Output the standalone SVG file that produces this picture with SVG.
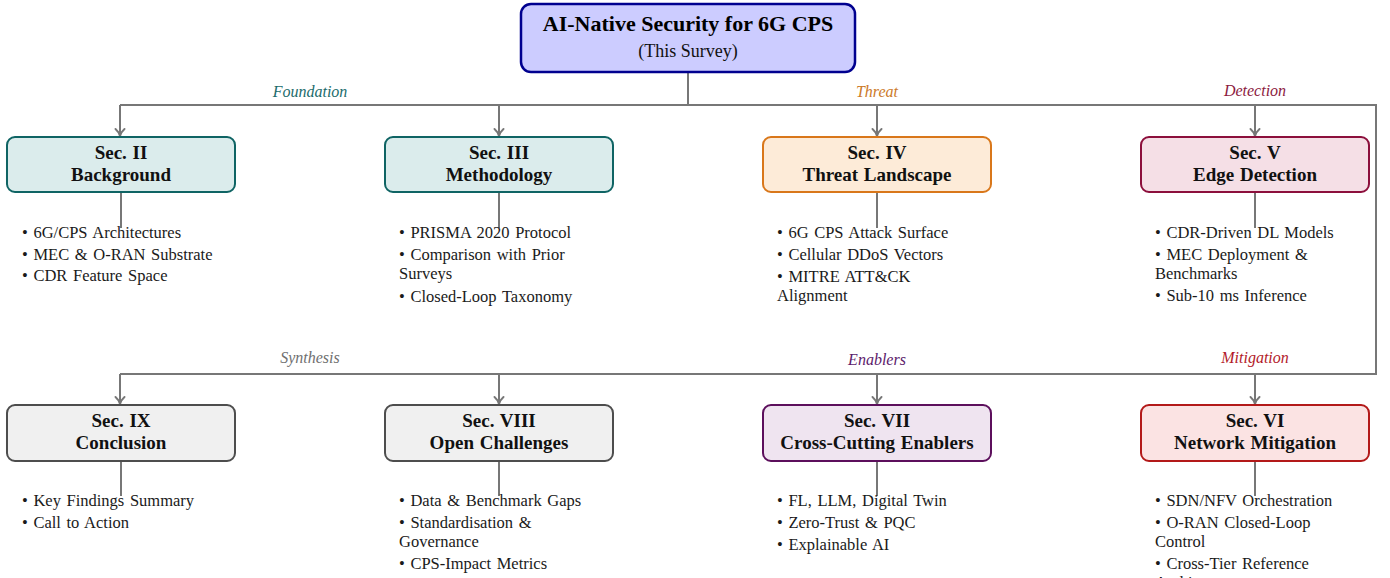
<svg xmlns="http://www.w3.org/2000/svg" width="1390" height="578" viewBox="0 0 1390 578">
  <style>
    .title { font-family: "Liberation Serif", "Times New Roman", serif; font-weight: bold; font-size: 22px; fill: #000; text-anchor: middle; }
    .sub { font-family: "Liberation Serif", "Times New Roman", serif; font-size: 18px; fill: #111; text-anchor: middle; }
    .head { font-family: "Liberation Serif", "Times New Roman", serif; font-weight: bold; font-size: 19px; fill: #111; text-anchor: middle; word-spacing: 1px; }
    .item { font-family: "Liberation Serif", "Times New Roman", serif; font-size: 16.5px; fill: #1a1a1a; word-spacing: 1.5px; }
    .lbl { font-family: "Liberation Serif", "Times New Roman", serif; font-style: italic; font-size: 16px; text-anchor: middle; }
    .box { stroke-width: 2; }
    .wire { fill: none; stroke: #777; stroke-width: 2; }
    .stem { fill: none; stroke: #777; stroke-width: 2; }
  </style>
  <defs>
    <marker id="tip" markerWidth="12" markerHeight="12" refX="9" refY="6" orient="auto" markerUnits="userSpaceOnUse">
      <path d="M2,1.5 Q5,5 9,6 Q5,7 2,10.5" fill="none" stroke="#777" stroke-width="2" stroke-linecap="round"/>
    </marker>
  </defs>

  <!-- connectors -->
  <g id="connectors">
    <path class="wire" d="M688,72 V105"/>
    <path class="wire" d="M120,105 H1376 V374 H120"/>
    <path class="wire" d="M120,105 V136" marker-end="url(#tip)"/>
    <path class="wire" d="M499,105 V136" marker-end="url(#tip)"/>
    <path class="wire" d="M877,105 V136" marker-end="url(#tip)"/>
    <path class="wire" d="M1255,105 V136" marker-end="url(#tip)"/>
    <path class="wire" d="M120,374 V404" marker-end="url(#tip)"/>
    <path class="wire" d="M499,374 V404" marker-end="url(#tip)"/>
    <path class="wire" d="M877,374 V404" marker-end="url(#tip)"/>
    <path class="wire" d="M1255,374 V404" marker-end="url(#tip)"/>
    <!-- stems from boxes to their item lists -->
    <path class="stem" d="M121,192 V228"/>
    <path class="stem" d="M499,192 V228"/>
    <path class="stem" d="M877,192 V228"/>
    <path class="stem" d="M1255,192 V228"/>
    <path class="stem" d="M121,461 V496"/>
    <path class="stem" d="M499,461 V496"/>
    <path class="stem" d="M877,461 V496"/>
    <path class="stem" d="M1255,461 V496"/>
  </g>

  <!-- connector labels -->
  <g id="labels">
    <text class="lbl" x="310" y="97" fill="#1a6b6b">Foundation</text>
    <text class="lbl" x="877" y="97" fill="#cc7a29">Threat</text>
    <text class="lbl" x="1255" y="96" fill="#8c1a40">Detection</text>
    <text class="lbl" x="310" y="363" fill="#707070">Synthesis</text>
    <text class="lbl" x="877" y="365" fill="#5c1a6b">Enablers</text>
    <text class="lbl" x="1255" y="363" fill="#b31a2a">Mitigation</text>
  </g>

  <!-- root -->
  <g id="root">
    <rect x="521" y="4" width="334" height="68" rx="10" fill="#ccccff" stroke="#00008f" stroke-width="2.5"/>
    <text class="title" x="688" y="31">AI-Native Security for 6G CPS</text>
    <text class="sub" x="688" y="57">(This Survey)</text>
  </g>

  <!-- row 1 -->
  <g id="sec2">
    <rect class="box" x="7" y="137" width="228" height="55" rx="8" fill="#dbecec" stroke="#0f6464"/>
    <text class="head" x="121" y="159">Sec. II</text>
    <text class="head" x="121" y="181">Background</text>
    <text class="item" x="22" y="238">• 6G/CPS Architectures</text>
    <text class="item" x="22" y="260">• MEC &amp; O-RAN Substrate</text>
    <text class="item" x="22" y="281">• CDR Feature Space</text>
  </g>
  <g id="sec3">
    <rect class="box" x="385" y="137" width="228" height="55" rx="8" fill="#dbecec" stroke="#0f6464"/>
    <text class="head" x="499" y="159">Sec. III</text>
    <text class="head" x="499" y="181">Methodology</text>
    <text class="item" x="399" y="238">• PRISMA 2020 Protocol</text>
    <text class="item" x="399" y="260">• Comparison with Prior</text>
    <text class="item" x="399" y="279">Surveys</text>
    <text class="item" x="399" y="302">• Closed-Loop Taxonomy</text>
  </g>
  <g id="sec4">
    <rect class="box" x="763" y="137" width="228" height="55" rx="8" fill="#fdebd8" stroke="#d9771a"/>
    <text class="head" x="877" y="159">Sec. IV</text>
    <text class="head" x="877" y="181">Threat Landscape</text>
    <text class="item" x="777" y="238">• 6G CPS Attack Surface</text>
    <text class="item" x="777" y="260">• Cellular DDoS Vectors</text>
    <text class="item" x="777" y="282">• MITRE ATT&amp;CK</text>
    <text class="item" x="777" y="301">Alignment</text>
  </g>
  <g id="sec5">
    <rect class="box" x="1141" y="137" width="228" height="55" rx="8" fill="#f5dfe6" stroke="#8c0f3c"/>
    <text class="head" x="1255" y="159">Sec. V</text>
    <text class="head" x="1255" y="181">Edge Detection</text>
    <text class="item" x="1155" y="238">• CDR-Driven DL Models</text>
    <text class="item" x="1155" y="260">• MEC Deployment &amp;</text>
    <text class="item" x="1155" y="279">Benchmarks</text>
    <text class="item" x="1155" y="301">• Sub-10 ms Inference</text>
  </g>

  <!-- row 2 -->
  <g id="sec9">
    <rect class="box" x="7" y="405" width="228" height="56" rx="8" fill="#f0f0f0" stroke="#4d4d4d"/>
    <text class="head" x="121" y="427">Sec. IX</text>
    <text class="head" x="121" y="449">Conclusion</text>
    <text class="item" x="22" y="506">• Key Findings Summary</text>
    <text class="item" x="22" y="528">• Call to Action</text>
  </g>
  <g id="sec8">
    <rect class="box" x="385" y="405" width="228" height="56" rx="8" fill="#f0f0f0" stroke="#4d4d4d"/>
    <text class="head" x="499" y="427">Sec. VIII</text>
    <text class="head" x="499" y="449">Open Challenges</text>
    <text class="item" x="399" y="506">• Data &amp; Benchmark Gaps</text>
    <text class="item" x="399" y="528">• Standardisation &amp;</text>
    <text class="item" x="399" y="547">Governance</text>
    <text class="item" x="399" y="569">• CPS-Impact Metrics</text>
  </g>
  <g id="sec7">
    <rect class="box" x="763" y="405" width="228" height="56" rx="8" fill="#efe4f0" stroke="#5c0f5c"/>
    <text class="head" x="877" y="427">Sec. VII</text>
    <text class="head" x="877" y="449">Cross-Cutting Enablers</text>
    <text class="item" x="777" y="506">• FL, LLM, Digital Twin</text>
    <text class="item" x="777" y="528">• Zero-Trust &amp; PQC</text>
    <text class="item" x="777" y="550">• Explainable AI</text>
  </g>
  <g id="sec6">
    <rect class="box" x="1141" y="405" width="228" height="56" rx="8" fill="#fbe3e3" stroke="#b31919"/>
    <text class="head" x="1255" y="427">Sec. VI</text>
    <text class="head" x="1255" y="449">Network Mitigation</text>
    <text class="item" x="1155" y="506">• SDN/NFV Orchestration</text>
    <text class="item" x="1155" y="528">• O-RAN Closed-Loop</text>
    <text class="item" x="1155" y="547">Control</text>
    <text class="item" x="1155" y="569">• Cross-Tier Reference</text>
    <text class="item" x="1155" y="588">Architecture</text>
  </g>
</svg>
